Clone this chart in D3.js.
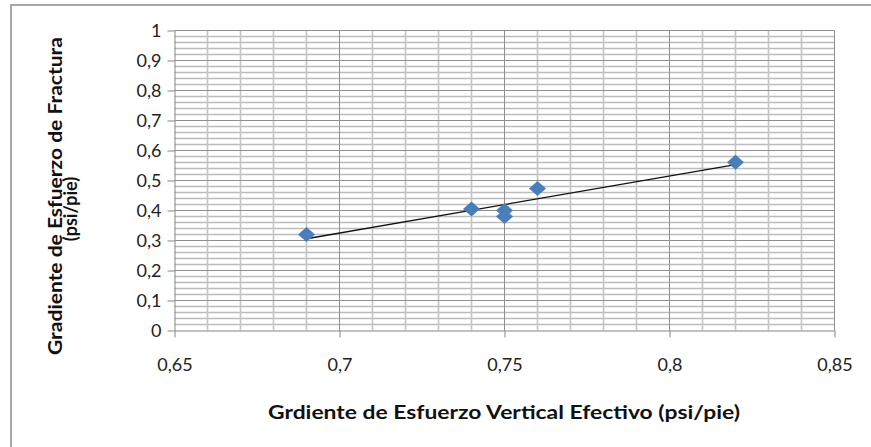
<!DOCTYPE html>
<html><head><meta charset="utf-8">
<script src="https://cdn.jsdelivr.net/npm/d3@7"></script>
<style>html,body{margin:0;padding:0;background:#fff;}svg{display:block;}</style>
</head><body>
<svg id="c" width="871" height="447"></svg>
<script>
// data
const xVals = [0.69, 0.74, 0.75, 0.75, 0.76, 0.82];
const yVals = [0.32, 0.405, 0.40, 0.38, 0.473, 0.561];
const xTicks = [0.65, 0.70, 0.75, 0.80, 0.85];
const xTickLabels = ["0,65", "0,7", "0,75", "0,8", "0,85"];
const yTicks = [0, 0.1, 0.2, 0.3, 0.4, 0.5, 0.6, 0.7, 0.8, 0.9, 1];
const yTickLabels = ["0", "0,1", "0,2", "0,3", "0,4", "0,5", "0,6", "0,7", "0,8", "0,9", "1"];
const xTitle = "Grdiente de Esfuerzo Vertical Efectivo (psi/pie)";
const yTitle = ["Gradiente de Esfuerzo de Fractura", "(psi/pie)"];

const svg = d3.select("#c");
const L = 174.5, R = 834.5, T = 30.5, B = 330.5;
const x = d3.scaleLinear().domain([0.65, 0.85]).range([L, R]);
const y = d3.scaleLinear().domain([0, 1]).range([B, T]);
const FONT = "Lato, 'Open Sans', sans-serif";

// outer frame
svg.append("path").attr("d", `M11,447 L11,5 L871,5`).attr("fill", "none")
  .attr("stroke", "#8a8a8a").attr("stroke-width", 1.5);

const g = svg.append("g");
// minor horizontal grid every 0.02
const yMinor = d3.range(0, 1.0001, 0.02).filter(v => Math.abs(v*10 - Math.round(v*10)) > 1e-6);
g.selectAll(".hm").data(yMinor).enter().append("line")
  .attr("x1", L).attr("x2", R).attr("y1", d => y(d)).attr("y2", d => y(d))
  .attr("stroke", "#bcbcbc").attr("stroke-width", 1.3);
// minor vertical grid every 0.01
const xMinor = d3.range(0.65, 0.85001, 0.01).filter(v => Math.abs(v*20 - Math.round(v*20)) > 1e-6);
g.selectAll(".vm").data(xMinor).enter().append("line")
  .attr("y1", T).attr("y2", B).attr("x1", d => x(d)).attr("x2", d => x(d))
  .attr("stroke", "#c4c4c4").attr("stroke-width", 1.6);
// major grid
g.selectAll(".hM").data(yTicks.slice(1)).enter().append("line")
  .attr("x1", L).attr("x2", R).attr("y1", d => y(d)).attr("y2", d => y(d))
  .attr("stroke", "#8f8f8f").attr("stroke-width", 1);
g.selectAll(".vM").data(xTicks.slice(1)).enter().append("line")
  .attr("y1", T).attr("y2", B).attr("x1", d => x(d)).attr("x2", d => x(d))
  .attr("stroke", "#8f8f8f").attr("stroke-width", 1);

// axes
const ax = d3.axisBottom(x).tickValues(xTicks).tickFormat((d, i) => xTickLabels[i]).tickSizeInner(7).tickSizeOuter(0).tickPadding(21);
const ay = d3.axisLeft(y).tickValues(yTicks).tickFormat((d, i) => yTickLabels[i]).tickSizeInner(7).tickSizeOuter(0).tickPadding(6);
const gx = svg.append("g").attr("transform", `translate(0,${B})`).call(ax);
const gy = svg.append("g").attr("transform", `translate(${L},0)`).call(ay);
[gx, gy].forEach(a => {
  a.selectAll("path, line").attr("stroke", "#868686").attr("stroke-width", 1);
  a.selectAll("text").attr("font-family", FONT).attr("font-size", 18).attr("fill", "#222");
});

// trend line (least squares on the points)
const mx = d3.mean(xVals), my = d3.mean(yVals);
const slope = d3.sum(xVals, (v, i) => (v - mx) * (yVals[i] - my)) / d3.sum(xVals, v => (v - mx) ** 2);
const icpt = my - slope * mx;
const x0 = d3.min(xVals), x1 = d3.max(xVals);
svg.append("line").attr("x1", x(x0)).attr("y1", y(icpt + slope * x0))
  .attr("x2", x(x1)).attr("y2", y(icpt + slope * x1))
  .attr("stroke", "#111").attr("stroke-width", 1.3);

// points
svg.selectAll(".pt").data(xVals).enter().append("path")
  .attr("transform", (d, i) => `translate(${x(d)},${y(yVals[i])})`)
  .attr("d", "M0,-7.5 L8.5,0 L0,7.5 L-8.5,0 Z")
  .attr("fill", "#4a7ebb");

// titles
svg.append("text").attr("x", (268 + 740) / 2).attr("y", 419).attr("text-anchor", "middle")
  .attr("font-family", FONT).attr("font-weight", "bold").attr("font-size", 18)
  .attr("fill", "#111").attr("textLength", 472).attr("lengthAdjust", "spacingAndGlyphs").text(xTitle);
svg.append("text").attr("transform", "translate(62,196) rotate(-90)").attr("text-anchor", "middle")
  .attr("font-family", FONT).attr("font-weight", "bold").attr("font-size", 18)
  .attr("fill", "#111").attr("textLength", 318).attr("lengthAdjust", "spacingAndGlyphs").text(yTitle[0]);
svg.append("text").attr("transform", "translate(77,209) rotate(-90)").attr("text-anchor", "middle")
  .attr("font-family", FONT).attr("font-weight", "bold").attr("font-size", 18)
  .attr("fill", "#111").text(yTitle[1]);
</script>
</body></html>
